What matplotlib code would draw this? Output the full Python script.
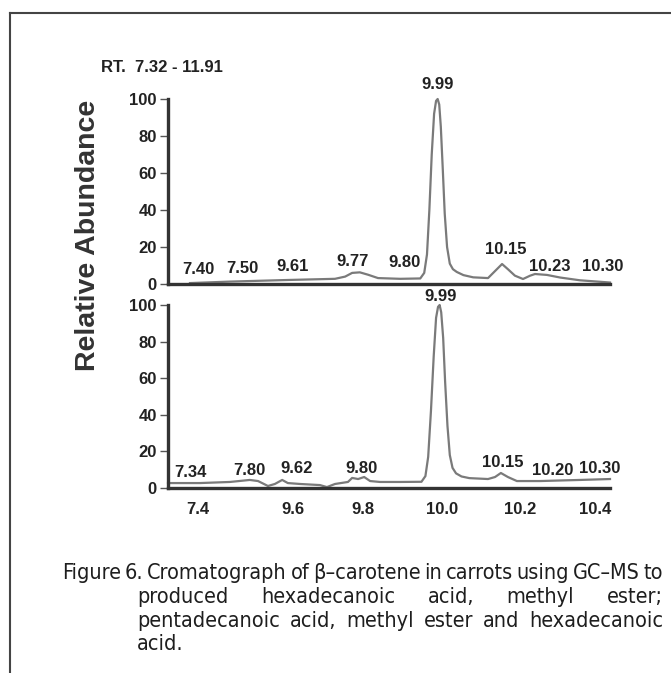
import numpy as np
import matplotlib
matplotlib.use("Agg")
import matplotlib.pyplot as plt
from matplotlib.lines import Line2D

plt.rcParams['font.family'] = ['Liberation Sans', 'DejaVu Sans']

# chromatogram traces (retention time, relative abundance)
top_rt = [7.36, 8.14, 9.53, 9.72, 9.749, 9.769, 9.791, 9.813, 9.838, 9.894, 9.945,
          9.955, 9.962, 9.968, 9.974, 9.980, 9.985, 9.989, 9.993, 9.997, 10.002,
          10.007, 10.013, 10.020, 10.028, 10.038, 10.055, 10.080, 10.118, 10.136,
          10.154, 10.169, 10.187, 10.208, 10.227, 10.240, 10.272, 10.307, 10.36,
          10.417, 10.45]
top_abund = [0.5, 1.3, 2.2, 2.8, 4.0, 6.0, 6.3, 5.0, 3.2, 2.8, 3.0,
             6.0, 16, 40, 70, 92, 99, 100, 97, 85, 62,
             38, 20, 11, 8.0, 6.5, 4.8, 3.6, 3.2, 7.0,
             10.8, 8.0, 4.5, 2.7, 4.5, 5.4, 4.9, 3.5, 2.0,
             1.2, 0.8]

bottom_rt = [7.25, 7.446, 8.14, 8.60, 8.79, 9.02, 9.18, 9.35, 9.48, 9.62, 9.677,
             9.697, 9.72, 9.757, 9.769, 9.786, 9.803, 9.818, 9.843, 9.894, 9.948,
             9.958, 9.965, 9.972, 9.979, 9.985, 9.990, 9.994, 9.998, 10.003, 10.008,
             10.014, 10.020, 10.027, 10.036, 10.050, 10.070, 10.118, 10.136, 10.151,
             10.169, 10.192, 10.253, 10.36, 10.45]
bottom_abund = [2.7, 2.7, 3.3, 4.4, 3.8, 1.1, 2.2, 4.4, 2.7, 2.2, 1.6,
                0.5, 2.2, 3.3, 5.5, 4.9, 6.0, 3.8, 3.3, 3.3, 3.4,
                6.5, 17, 42, 72, 93, 99, 100, 96, 82, 58,
                34, 18, 11, 8.0, 6.3, 5.4, 4.9, 6.0, 8.2,
                6.0, 3.8, 3.8, 4.4, 4.9]

# peak labels: text, retention time, height
top_peaks = [("7.40", 7.40, 7.6), ("7.50", 8.42, 8.6), ("9.61", 9.60, 9.2),
             ("9.77", 9.771, 11.9), ("9.80", 9.906, 11.4), ("9.99", 9.99, 107.6),
             ("10.15", 10.164, 18.4), ("10.23", 10.28, 9.2), ("10.30", 10.427, 9.2)]
bottom_peaks = [("7.34", 7.36, 8.7), ("7.80", 8.60, 9.8), ("9.62", 9.609, 10.4),
                ("9.80", 9.797, 10.9), ("9.99", 9.997, 104.4), ("10.15", 10.156, 14.2),
                ("10.20", 10.288, 9.8), ("10.30", 10.417, 10.4)]

y_ticks = [0, 20, 40, 60, 80, 100]
x_ticks = [7.4, 9.6, 9.8, 10.0, 10.2, 10.4]
x_tick_labels = ["7.4", "9.6", "9.8", "10.0", "10.2", "10.4"]

caption_lines = [
    "Figure 6. Cromatograph of \u03b2\u2013carotene in carrots using GC\u2013MS to",
    "produced hexadecanoic acid, methyl ester;",
    "pentadecanoic acid, methyl ester and hexadecanoic",
    "acid.",
]

# broken retention-time axis (compressed on the left)
T_BREAKS = [7.25, 7.4, 9.6, 9.8, 10.0, 10.2, 10.4, 10.45]
P_BREAKS = [0, 30, 125, 195, 274, 352, 427, 442]


def fwd(t):
    return np.interp(t, T_BREAKS, P_BREAKS)


def inv(p):
    return np.interp(p, P_BREAKS, T_BREAKS)


W, H = 671, 673
fig = plt.figure(figsize=(W / 100, H / 100), dpi=100)

dark = "#333333"
trace = "#7a7a7a"
lab_font = dict(fontsize=12, fontweight="bold", color="#222222")


def px_axes(left, top, right, bottom):
    return fig.add_axes([left / W, 1 - bottom / H, (right - left) / W, (bottom - top) / H])


ax_top = px_axes(168, 99, 610, 284)
ax_bot = px_axes(168, 305, 610, 488)

for ax, rt, ab, peaks in [(ax_top, top_rt, top_abund, top_peaks),
                          (ax_bot, bottom_rt, bottom_abund, bottom_peaks)]:
    ax.set_xscale("function", functions=(fwd, inv))
    ax.plot(rt, ab, color=trace, lw=1.6, clip_on=False, solid_joinstyle="round")
    ax.set_xlim(7.25, 10.45)
    ax.set_ylim(0, 100)
    for s in ["top", "right"]:
        ax.spines[s].set_visible(False)
    for s in ["left", "bottom"]:
        ax.spines[s].set_linewidth(2.4)
        ax.spines[s].set_color(dark)
    ax.set_yticks(y_ticks)
    ax.set_yticklabels([str(v) for v in y_ticks], **lab_font)
    ax.tick_params(axis="y", length=6, width=1, color="#555555", pad=2)
    ax.tick_params(axis="x", length=0)
    for txt, x, y in peaks:
        ax.text(x, y, txt, ha="center", va="center", **lab_font)

ax_top.set_xticks([])
ax_bot.set_xticks(x_ticks)
ax_bot.set_xticklabels(x_tick_labels, **lab_font)
ax_bot.tick_params(axis="x", pad=10)

fig.text(88 / W, 1 - 235 / H, "Relative Abundance", rotation=90, ha="center",
         va="center", fontsize=20.5, fontweight="bold", color=dark)
fig.text(101 / W, 1 - 68 / H, "RT.  7.32 - 11.91", ha="left", va="center", **lab_font)

# frame lines of the figure panel
fig.add_artist(Line2D([10 / W, 1], [1 - 13 / H, 1 - 13 / H], color="#444444", lw=1.5))
fig.add_artist(Line2D([10 / W, 10 / W], [0, 1 - 13 / H], color="#444444", lw=1.5))

# justified caption
cap_font = dict(family=["DejaVu Sans"], stretch="condensed", fontsize=15.5,
                color="#1e1e1e", va="baseline", ha="left")
renderer = fig.canvas.get_renderer()
line_specs = [(62, 663, 579, True), (137, 663, 603, True),
              (137, 663, 627, True), (137, 663, 650, False)]
for text, (x0, x1, yb, just) in zip(caption_lines, line_specs):
    words = text.split()
    objs = [fig.text(0, 0, w, **cap_font) for w in words]
    widths = [o.get_window_extent(renderer).width for o in objs]
    if just and len(words) > 1:
        gap = (x1 - x0 - sum(widths)) / (len(words) - 1)
    else:
        gap = 4.5
    x = x0
    for o, w in zip(objs, widths):
        o.set_position((x / W, 1 - yb / H))
        x += w + gap

fig.savefig("out.png", dpi=100)
